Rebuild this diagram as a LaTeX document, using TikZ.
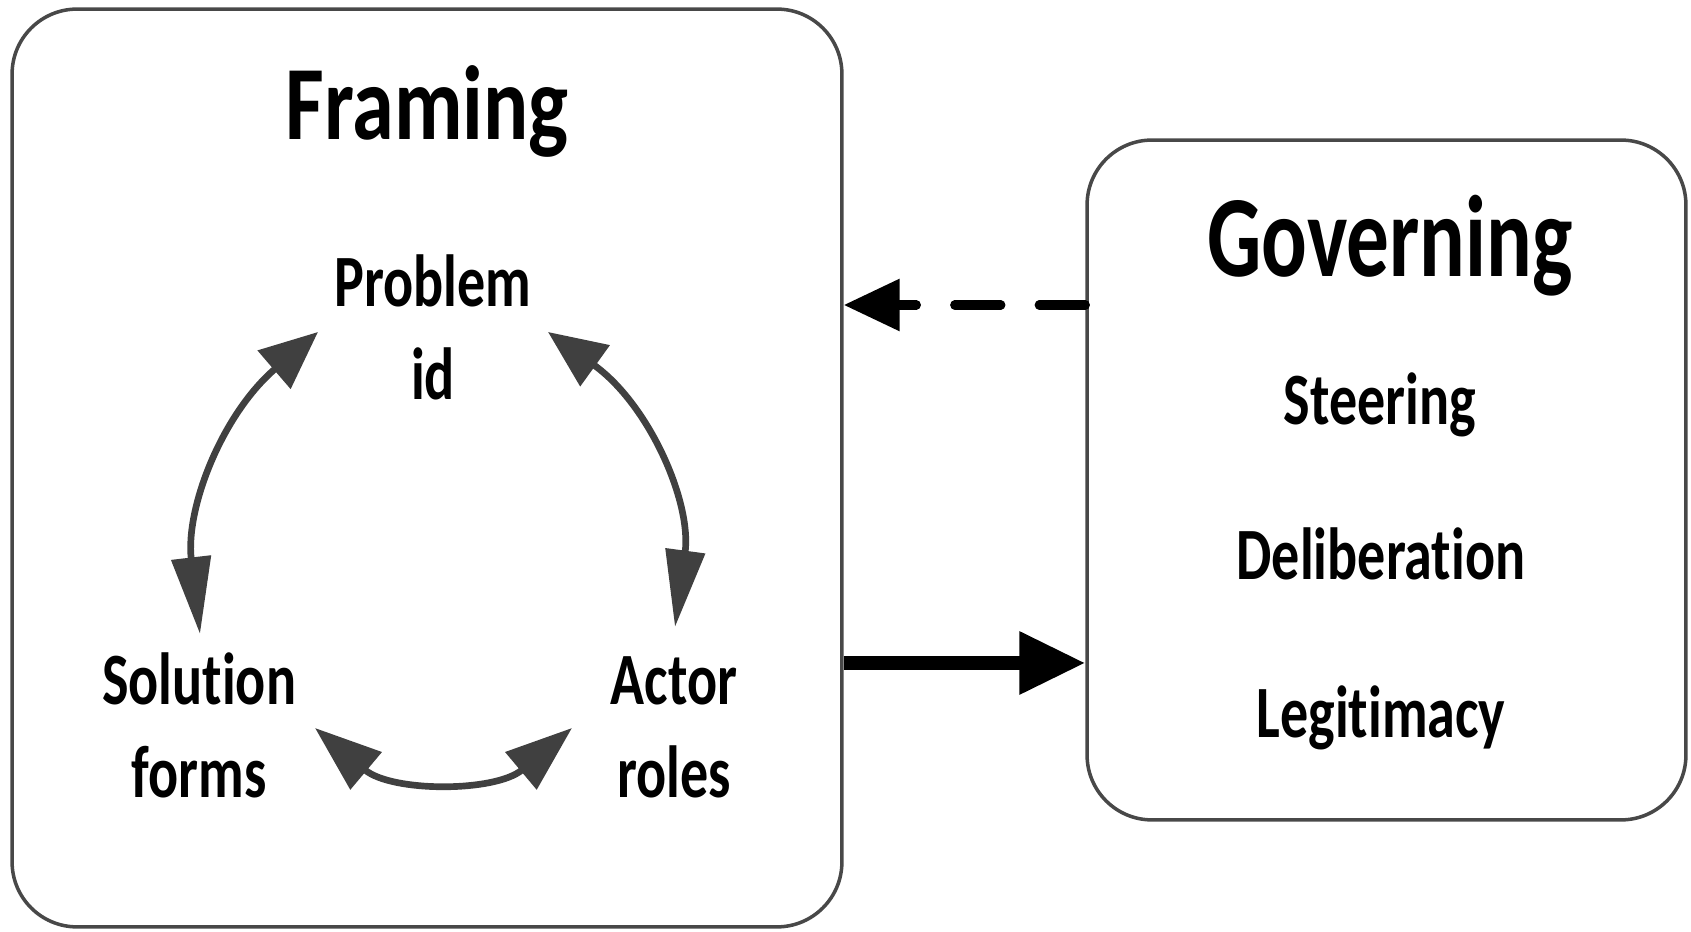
\documentclass[tikz,border=0pt]{standalone}
\usepackage{fontspec}
\setmainfont{Carlito}
\newfontfamily\headfont[FakeStretch=0.8,Ligatures=NoCommon]{Carlito}
\newfontfamily\govfont[FakeStretch=0.735,Ligatures=NoCommon]{Carlito}
\newfontfamily\itemfont[FakeStretch=0.76,Ligatures=NoCommon]{Carlito}
\usetikzlibrary{arrows.meta,positioning}
\definecolor{rim}{HTML}{484848}
\definecolor{loop}{HTML}{404040}
\begin{document}
\begin{tikzpicture}[x=0.02cm,y=0.02cm,
  box/.style={draw=rim,line width=2pt,rounded corners=1.3cm,inner sep=0},
  head/.style={font=\headfont\bfseries\fontsize{60}{60}\selectfont,anchor=base},
  item/.style={font=\itemfont\bfseries\fontsize{42}{53}\selectfont,align=center,anchor=base},
  cyc/.style={draw=loop,line width=3.8pt},
  longtip/.tip={Triangle[length=43.8pt,width=22pt]},
  slanttip/.tip={Triangle[length=33pt,width=28pt]},
  flattip/.tip={Triangle[length=38pt,width=27pt]},
  back/.style={-{Triangle[length=31.9pt,width=28.5pt]},line width=5.3pt,line cap=round,dash pattern=on 26.2pt off 21.9pt},
  fwd/.style={-{Triangle[length=37.6pt,width=34.1pt]},line width=7.6pt}]
  \useasboundingbox (0,0) rectangle (1691,932);
  \node[box,minimum width=16.6cm,minimum height=18.36cm] (frame) at (427,464) {};
  \node[box,minimum width=11.98cm,minimum height=13.6cm] (gov) at (1386.5,452) {};
  \node[head] (frameT) at (427,792) {Framing};
  \node[head,font=\govfont\bfseries\fontsize{66}{66}\selectfont] (govT) at (1390,655) {Governing};
  \node[item] (prob) at (433,532) {Problem\\id};
  \node[item] (sol) at (199,134) {Solution\\forms};
  \node[item] (act) at (674,134) {Actor\\roles};
  \node[item] (steer) at (1380,507) {Steering};
  \node[item] (delib) at (1381,352) {Deliberation};
  \node[item] (legit) at (1381,194) {Legitimacy};
  \coordinate (pl) at (200,298);
  \coordinate (pt1) at (318,600);
  \coordinate (pt2) at (548,600);
  \coordinate (pr) at (675,305);
  \coordinate (bl) at (315,204);
  \coordinate (br) at (572,204);
  \coordinate (upper) at (0,627);
  \coordinate (lower) at (0,269);
  \draw[cyc,{longtip}-{slanttip}] (pl) to[bend left=28] (pt1);
  \draw[cyc,{slanttip}-{longtip}] (pt2) to[bend left=31] (pr);
  \draw[cyc,{flattip}-{flattip}] (bl) to[bend right=40] (br);
  \draw[back] (gov.west |- upper) -- (frame.east |- upper);
  \draw[fwd] (frame.east |- lower) -- (gov.west |- lower);
\end{tikzpicture}
\end{document}
